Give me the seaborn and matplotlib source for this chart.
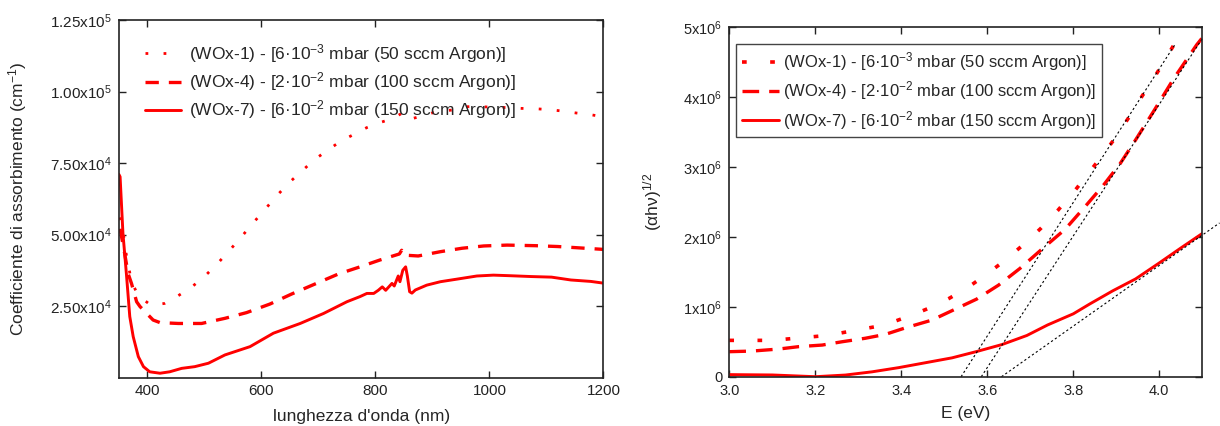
import matplotlib
matplotlib.use('Agg')
import matplotlib.pyplot as plt
import seaborn as sns

# ---------------- data (left panel: absorption coefficient vs wavelength) ----------------
WL_WOX1 = [352, 356, 363, 367, 372, 384, 406, 430, 454, 478, 501, 525, 546, 567, 587, 608,
           628, 650, 671, 693, 715, 738, 762, 785, 807, 830, 849, 864, 888, 911, 935, 960,
           983, 1009, 1032, 1056, 1079, 1103, 1127, 1152, 1174, 1199]
ABS_WOX1 = [5.6, 5.27, 4.28, 3.87, 3.35, 2.86, 2.53, 2.59, 2.86, 3.17, 3.55, 4.03, 4.49, 4.97, 5.44, 5.92,
            6.38, 6.84, 7.22, 7.62, 7.93, 8.25, 8.50, 8.74, 8.91, 9.05, 9.27, 9.05, 9.18, 9.32, 9.35, 9.47,
            9.47, 9.45, 9.44, 9.41, 9.40, 9.37, 9.32, 9.25, 9.20, 9.12]

WL_WOX4 = [352, 360, 366, 372, 381, 387, 410, 422, 454, 495, 536, 574, 615, 653, 694, 735,
           773, 808, 842, 846, 850, 875, 914, 952, 990, 1031, 1080, 1120, 1160, 1200]
ABS_WOX4 = [5.2, 4.34, 3.64, 3.29, 2.65, 2.48, 2.01, 1.92, 1.89, 1.89, 2.07, 2.27, 2.57, 2.92, 3.27, 3.62,
            3.87, 4.11, 4.32, 4.45, 4.28, 4.25, 4.40, 4.52, 4.60, 4.63, 4.61, 4.58, 4.53, 4.48]

WL_WOX7 = [350, 352, 357, 363, 369, 375, 384, 393, 404, 422, 439, 460, 483, 507, 536, 580,
           621, 668, 709, 750, 773, 785, 797, 805, 812, 818, 829, 833, 840, 843, 848, 853,
           856, 860, 864, 870, 890, 914, 943, 978, 1007, 1036, 1074, 1109, 1143, 1178, 1200]
ABS_WOX7 = [7.1, 7.02, 5.04, 3.64, 2.13, 1.43, 0.73, 0.38, 0.20, 0.15, 0.20, 0.32, 0.38, 0.50, 0.79, 1.08,
            1.55, 1.89, 2.24, 2.65, 2.83, 2.94, 2.94, 3.05, 3.17, 3.05, 3.29, 3.20, 3.55, 3.35, 3.75, 3.87,
            3.55, 3.00, 2.95, 3.06, 3.23, 3.35, 3.44, 3.55, 3.58, 3.56, 3.53, 3.51, 3.41, 3.36, 3.30]
ABS_UNIT = 1e4

# ---------------- data (right panel: Tauc plot) ----------------
E_WOX1 = [3.000, 3.041, 3.084, 3.126, 3.169, 3.212, 3.254, 3.297, 3.340, 3.382, 3.424, 3.468,
          3.511, 3.553, 3.596, 3.639, 3.681, 3.724, 3.764, 3.802, 3.835, 3.868, 3.899, 3.928,
          3.954, 3.982, 4.009, 4.034, 4.060, 4.075]
T_WOX1 = [0.52, 0.52, 0.52, 0.535, 0.558, 0.582, 0.62, 0.668, 0.716, 0.787, 0.88, 0.99,
          1.12, 1.27, 1.455, 1.655, 1.874, 2.12, 2.38, 2.65, 2.91, 3.17, 3.43, 3.70,
          3.96, 4.22, 4.49, 4.75, 5.00, 5.15]

E_WOX4 = [3.000, 3.053, 3.115, 3.161, 3.216, 3.262, 3.316, 3.363, 3.410, 3.471, 3.521, 3.575,
          3.626, 3.676, 3.726, 3.781, 3.831, 3.870, 3.909, 3.945, 3.989, 4.034, 4.087, 4.100]
T_WOX4 = [0.358, 0.367, 0.396, 0.43, 0.453, 0.50, 0.55, 0.606, 0.70, 0.81, 0.954, 1.11,
          1.31, 1.55, 1.82, 2.11, 2.46, 2.74, 3.05, 3.39, 3.82, 4.27, 4.75, 4.85]

E_WOX7 = [3.000, 3.100, 3.200, 3.270, 3.332, 3.394, 3.456, 3.518, 3.575, 3.634, 3.692, 3.740,
          3.800, 3.838, 3.892, 3.945, 3.998, 4.052, 4.100]
T_WOX7 = [0.03, 0.025, 0.0, 0.024, 0.07, 0.13, 0.20, 0.27, 0.36, 0.46, 0.59, 0.74,
          0.90, 1.04, 1.23, 1.40, 1.62, 1.85, 2.05]
T_UNIT = 1e6

# linear fits (band-gap extrapolations)
FIT1_E = [3.539, 4.036]
FIT1_T = [0.0, 4.75]
FIT4_E = [3.586, 4.100]
FIT4_T = [0.0, 4.84]
FIT7_E = [3.633, 4.140]
FIT7_T = [0.0, 2.20]

LABELS = ['(WOx-1) - [6·10$^{-3}$ mbar (50 sccm Argon)]',
          '(WOx-4) - [2·10$^{-2}$ mbar (100 sccm Argon)]',
          '(WOx-7) - [6·10$^{-2}$ mbar (150 sccm Argon)]']

LX_TICKS = [400, 600, 800, 1000, 1200]
LY_TICKS = [2.5e4, 5e4, 7.5e4, 1e5, 1.25e5]
LY_TICKLABELS = ['2.50x10$^4$', '5.00x10$^4$', '7.50x10$^4$', '1.00x10$^5$', '1.25x10$^5$']
RX_TICKS = [3.0, 3.2, 3.4, 3.6, 3.8, 4.0]
RY_TICKS = [0, 1e6, 2e6, 3e6, 4e6, 5e6]
RY_TICKLABELS = ['0', '1x10$^6$', '2x10$^6$', '3x10$^6$', '4x10$^6$', '5x10$^6$']

# ---------------- style ----------------
sns.set_theme(style='ticks')
plt.rcParams['font.family'] = ['Liberation Sans', 'DejaVu Sans']
plt.rcParams['mathtext.fontset'] = 'custom'
plt.rcParams['mathtext.rm'] = 'Liberation Sans'
plt.rcParams['mathtext.it'] = 'Liberation Sans:italic'
plt.rcParams['mathtext.bf'] = 'Liberation Sans:bold'
plt.rcParams['axes.unicode_minus'] = True

RED = '#ff0000'

fig = plt.figure(figsize=(12.2, 4.26), dpi=100)
axL = fig.add_axes([0.0975, 0.1138, 0.3971, 0.8392])
axR = fig.add_axes([0.5978, 0.1157, 0.3877, 0.8202])

# ---------------- left panel ----------------
sns.lineplot(x=WL_WOX1, y=[v * ABS_UNIT for v in ABS_WOX1], ax=axL, color=RED, lw=2.0,
             linestyle=(0, (1, 5.5)), sort=False, estimator=None, label=LABELS[0])
sns.lineplot(x=WL_WOX4, y=[v * ABS_UNIT for v in ABS_WOX4], ax=axL, color=RED, lw=2.4,
             linestyle=(0, (4, 3)), sort=False, estimator=None, label=LABELS[1])
sns.lineplot(x=WL_WOX7, y=[v * ABS_UNIT for v in ABS_WOX7], ax=axL, color=RED, lw=2.1,
             linestyle='-', sort=False, estimator=None, label=LABELS[2])

axL.set_xlim(350, 1200)
axL.set_ylim(0, 1.25e5)
axL.set_xticks(LX_TICKS)
axL.set_xticklabels([str(t) for t in LX_TICKS])
axL.set_yticks(LY_TICKS)
axL.set_yticklabels(LY_TICKLABELS)
axL.set_xlabel("lunghezza d'onda (nm)", fontsize=12.5)
axL.set_ylabel('Coefficiente di assorbimento (cm$^{-1}$)', fontsize=12.5)
axL.xaxis.set_label_coords(0.5, -0.088)
axL.yaxis.set_label_coords(-0.185, 0.5)

hL, lL = axL.get_legend_handles_labels()
axL.legend(hL, lL, loc='upper left', bbox_to_anchor=(0.0537, 0.938), frameon=False,
           fontsize=12.5, handlelength=2.1, handletextpad=0.45, labelspacing=0.3,
           borderpad=0, borderaxespad=0)

# ---------------- right panel ----------------
sns.lineplot(x=E_WOX1, y=[v * T_UNIT for v in T_WOX1], ax=axR, color=RED, lw=2.6,
             linestyle=(0, (1.3, 6.5)), sort=False, estimator=None, label=LABELS[0])
sns.lineplot(x=E_WOX4, y=[v * T_UNIT for v in T_WOX4], ax=axR, color=RED, lw=2.4,
             linestyle=(0, (5, 3)), sort=False, estimator=None, label=LABELS[1])
sns.lineplot(x=E_WOX7, y=[v * T_UNIT for v in T_WOX7], ax=axR, color=RED, lw=2.1,
             linestyle='-', sort=False, estimator=None, label=LABELS[2])
for fe, ft in [(FIT1_E, FIT1_T), (FIT4_E, FIT4_T), (FIT7_E, FIT7_T)]:
    sns.lineplot(x=fe, y=[v * T_UNIT for v in ft], ax=axR, color='black', lw=0.8,
                 linestyle=(0, (2, 2.2)), sort=False, estimator=None, clip_on=False)

axR.set_xlim(3.0, 4.1)
axR.set_ylim(0, 5e6)
axR.set_xticks(RX_TICKS)
axR.set_xticklabels([f'{t:.1f}' for t in RX_TICKS])
axR.set_yticks(RY_TICKS)
axR.set_yticklabels(RY_TICKLABELS)
axR.set_xlabel('E (eV)', fontsize=12.5)
axR.set_ylabel('(αhν)$^{1/2}$', fontsize=12.5)
axR.xaxis.set_label_coords(0.5, -0.084)
axR.yaxis.set_label_coords(-0.138, 0.5)

hR, lR = axR.get_legend_handles_labels()
legR = axR.legend(hR[:3], lR[:3], loc='upper left', bbox_to_anchor=(0.0135, 0.9513),
                  frameon=True, fancybox=False, framealpha=1, edgecolor='#444444',
                  fontsize=12.0, handlelength=2.25, handletextpad=0.25, labelspacing=0.38,
                  borderpad=0.35, borderaxespad=0)
legR.get_frame().set_linewidth(1.0)

for ax, lsz in [(axL, 11), (axR, 10.5)]:
    ax.tick_params(direction='in', top=True, right=True, length=5, width=1.0,
                   labelsize=lsz, pad=5, color='#222222', labelcolor='#222222')
    for s in ax.spines.values():
        s.set_linewidth(1.2)
        s.set_color('#222222')
    ax.set_facecolor('white')

fig.savefig('out.png', dpi=100, facecolor='white')
